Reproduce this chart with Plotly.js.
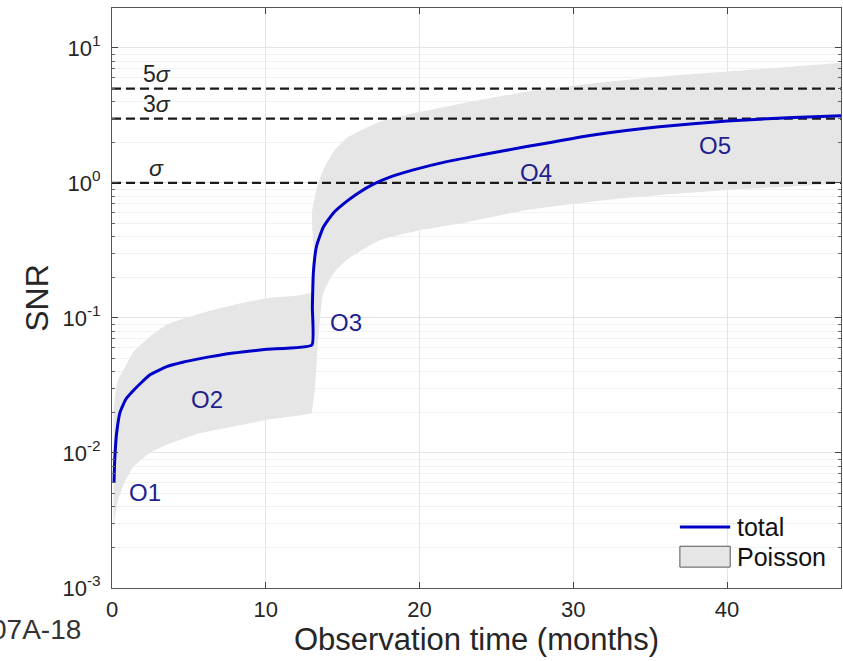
<!DOCTYPE html>
<html>
<head>
<meta charset="utf-8">
<script src="https://cdn.plot.ly/plotly-3.0.1.min.js"></script>
<style>html,body{margin:0;padding:0;background:#fff;}#chart{width:843px;height:661px;}</style>
</head>
<body>
<div id="chart"></div>
<script>
// total SNR curve (months, SNR)
var totalX = [0.13, 0.16, 0.2, 0.3, 0.52, 0.9, 1.39, 2.0, 2.47, 3.56, 4.6, 5.72, 7.89, 10.06, 13.0, 13.03, 13.1, 13.3, 13.74, 14.4, 15.26, 16.0, 17.0, 18.2, 19.6, 21.77, 23.98, 26.97, 31.3, 35.6, 40.0, 44.3, 47.5];
var totalY = [0.006, 0.008, 0.01, 0.014, 0.02, 0.025, 0.029, 0.034, 0.038, 0.0436, 0.047, 0.05, 0.055, 0.0586, 0.063, 0.12, 0.22, 0.34, 0.47, 0.6, 0.73, 0.84, 0.98, 1.12, 1.25, 1.44, 1.61, 1.86, 2.27, 2.61, 2.88, 3.05, 3.15];

// Poisson band (lower / upper edge)
var bandX     = [0.1, 0.2, 0.4, 0.74, 1.39, 2.47, 3.56, 5.72, 7.89, 10.06, 12.99, 13.0, 13.2, 13.42, 13.74, 14.4, 15.26, 17.43, 19.6, 22.6, 26.97, 31.3, 35.6, 40.0, 44.3, 47.5];
var bandUpper = [0.02, 0.027, 0.035, 0.041, 0.056, 0.073, 0.089, 0.108, 0.125, 0.14, 0.157, 0.6, 0.8, 1.0, 1.25, 1.7, 2.15, 2.84, 3.28, 3.85, 4.74, 5.48, 6.13, 6.69, 7.28, 7.78];
var bandLower = [0.0027, 0.0034, 0.0045, 0.0058, 0.0079, 0.01, 0.0115, 0.014, 0.0157, 0.0176, 0.0197, 0.0199, 0.03, 0.07, 0.152, 0.214, 0.269, 0.378, 0.436, 0.5, 0.63, 0.73, 0.815, 0.887, 0.94, 0.995];

// significance thresholds
var sigmaLevels = [5, 3, 1];
var sigmaLabels = ['5<i>σ</i>', '3<i>σ</i>', '<i>σ</i>'];

// observing run labels
var runLabels = ['O1', 'O2', 'O3', 'O4', 'O5'];
var runX = [2.15, 6.18, 15.2, 27.6, 39.2];
var runY = [0.00506, 0.0251, 0.0933, 1.205, 1.91];

// legend entries
var legendNames = ['total', 'Poisson'];

var xMax = 47.41;
var yTickVals = [0.001, 0.01, 0.1, 1, 10];
var yTickText = ['10<sup>-3</sup>', '10<sup>-2</sup>', '10<sup>-1</sup>', '10<sup>0</sup>', '10<sup>1</sup>'];
var yMinor = [];
for (var d = -3; d <= 1; d++) { for (var m = 2; m <= 9; m++) { yMinor.push(m * Math.pow(10, d)); } }

var FONT = 'Liberation Sans, Arial, Helvetica, sans-serif';
var BLUE = '#0000c8';
var GRAY = '#e6e6e6';

var traces = [];
traces.push({x: bandX, y: bandLower, type: 'scatter', mode: 'lines', line: {width: 0, color: 'rgba(0,0,0,0)', shape: 'spline', smoothing: 0.5}, showlegend: false, hoverinfo: 'skip'});
traces.push({x: bandX, y: bandUpper, type: 'scatter', mode: 'lines', fill: 'tonexty', fillcolor: GRAY, line: {width: 0, color: 'rgba(0,0,0,0)', shape: 'spline', smoothing: 0.5}, name: legendNames[1], showlegend: false, hoverinfo: 'skip'});
sigmaLevels.forEach(function (s) {
  traces.push({x: [0, xMax], y: [s, s], type: 'scatter', mode: 'lines', line: {color: '#1a1a1a', width: 2.2, dash: '9px,5px'}, showlegend: false});
});
traces.push({x: totalX, y: totalY, type: 'scatter', mode: 'lines', name: legendNames[0], showlegend: false, line: {color: BLUE, width: 3, shape: 'spline', smoothing: 0.4}});

var annotations = [];
sigmaLevels.forEach(function (s, i) {
  annotations.push({x: 2.9, y: Math.log10(s) + 0.11, xref: 'x', yref: 'y', text: sigmaLabels[i], showarrow: false, xanchor: 'center', yanchor: 'middle', font: {family: FONT, size: 23, color: '#262626'}});
});
runLabels.forEach(function (t, i) {
  annotations.push({x: runX[i], y: Math.log10(runY[i]), xref: 'x', yref: 'y', text: t, showarrow: false, xanchor: 'center', yanchor: 'middle', font: {family: FONT, size: 24, color: '#1f1f8f'}});
});
// legend texts (plot-area fractions)
annotations.push({x: 0.855, y: 0.105, xref: 'paper', yref: 'paper', text: legendNames[0], showarrow: false, xanchor: 'left', yanchor: 'middle', font: {family: FONT, size: 25, color: '#111'}});
annotations.push({x: 0.855, y: 0.054, xref: 'paper', yref: 'paper', text: legendNames[1], showarrow: false, xanchor: 'left', yanchor: 'middle', font: {family: FONT, size: 25, color: '#111'}});
annotations.push({x: -0.04, y: -0.072, xref: 'paper', yref: 'paper', text: '07A-18', showarrow: false, xanchor: 'right', yanchor: 'middle', font: {family: FONT, size: 28, color: '#333333'}});

// legend swatches
var shapes = [
  {type: 'line', xref: 'paper', yref: 'paper', x0: 0.779, x1: 0.848, y0: 0.105, y1: 0.105, line: {color: BLUE, width: 3}},
  {type: 'rect', xref: 'paper', yref: 'paper', x0: 0.779, x1: 0.848, y0: 0.036, y1: 0.072, fillcolor: GRAY, line: {color: '#555555', width: 1}}
];

var layout = {
  width: 843, height: 661,
  margin: {l: 112, r: 2, t: 8, b: 73},
  paper_bgcolor: '#ffffff', plot_bgcolor: '#ffffff',
  font: {family: FONT, color: '#262626'},
  showlegend: false,
  xaxis: {
    range: [0, xMax], tickvals: [0, 10, 20, 30, 40], ticktext: ['0', '10', '20', '30', '40'],
    ticks: 'inside', ticklen: 6, tickcolor: '#444', mirror: 'ticks', showline: true, linecolor: '#555', linewidth: 1,
    showgrid: true, gridcolor: '#e4e4e4', gridwidth: 1, zeroline: false,
    tickfont: {size: 22, color: '#262626'}, ticklabelstandoff: 2,
    title: {text: 'Observation time (months)', font: {size: 31, color: '#262626'}, standoff: 2}
  },
  yaxis: {
    type: 'log', range: [-3, 1.296], tickvals: yTickVals, ticktext: yTickText,
    ticks: 'inside', ticklen: 6, tickcolor: '#444', mirror: 'ticks', showline: true, linecolor: '#555', linewidth: 1,
    showgrid: true, gridcolor: '#e4e4e4', gridwidth: 1, zeroline: false,
    tickfont: {size: 22, color: '#262626'}, ticklabelstandoff: 6,
    minor: {tickvals: yMinor, ticks: 'inside', ticklen: 3, tickcolor: '#666', showgrid: true, gridcolor: '#f1f1f1', gridwidth: 1},
    title: {text: 'SNR', font: {size: 32, color: '#262626'}, standoff: 4}
  },
  annotations: annotations,
  shapes: shapes
};

Plotly.newPlot('chart', traces, layout, {displayModeBar: false, staticPlot: true});
</script>
</body>
</html>
